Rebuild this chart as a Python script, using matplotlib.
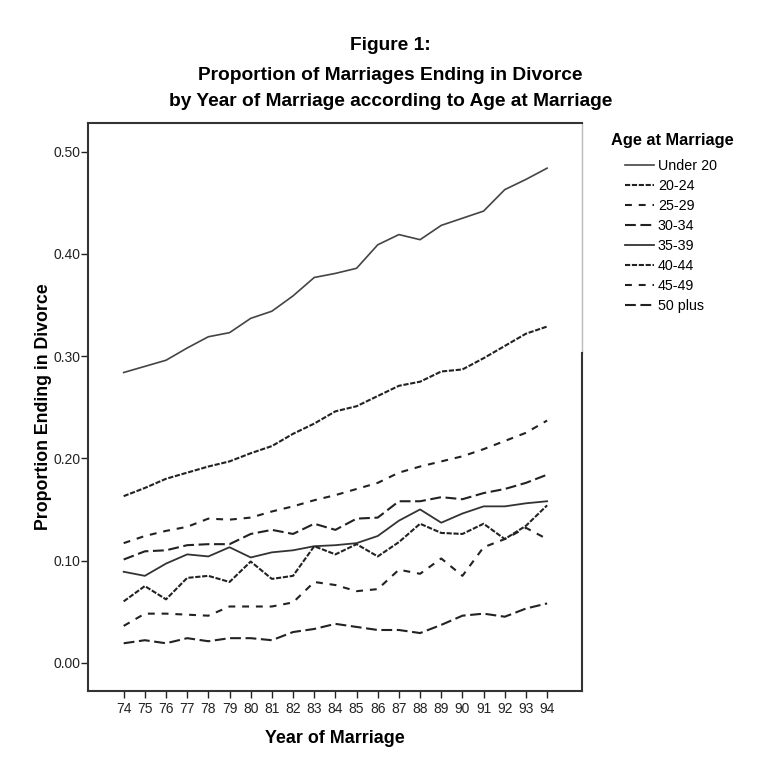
import matplotlib
matplotlib.use("Agg")
import matplotlib.pyplot as plt

plt.rcParams['font.family'] = ['Liberation Sans', 'DejaVu Sans']

years = list(range(74, 95))
year_labels = [str(y) for y in years]

under_20 = [0.284, 0.290, 0.296, 0.308, 0.319, 0.323, 0.337, 0.344, 0.359, 0.377, 0.381,
            0.386, 0.409, 0.419, 0.414, 0.428, 0.435, 0.442, 0.463, 0.473, 0.484]
age_20_24 = [0.163, 0.171, 0.180, 0.186, 0.192, 0.197, 0.205, 0.212, 0.224, 0.234, 0.246,
             0.251, 0.261, 0.271, 0.275, 0.285, 0.287, 0.298, 0.310, 0.322, 0.329]
age_25_29 = [0.117, 0.124, 0.129, 0.133, 0.141, 0.140, 0.142, 0.148, 0.153, 0.159, 0.164,
             0.170, 0.176, 0.186, 0.192, 0.197, 0.202, 0.209, 0.217, 0.225, 0.237]
age_30_34 = [0.101, 0.109, 0.110, 0.115, 0.116, 0.116, 0.126, 0.130, 0.126, 0.136, 0.130,
             0.141, 0.142, 0.158, 0.158, 0.162, 0.160, 0.166, 0.170, 0.176, 0.184]
age_35_39 = [0.089, 0.085, 0.097, 0.106, 0.104, 0.113, 0.103, 0.108, 0.110, 0.114, 0.115,
             0.117, 0.124, 0.139, 0.150, 0.137, 0.146, 0.153, 0.153, 0.156, 0.158]
age_40_44 = [0.060, 0.075, 0.062, 0.083, 0.085, 0.079, 0.099, 0.082, 0.085, 0.114, 0.106,
             0.116, 0.104, 0.118, 0.136, 0.127, 0.126, 0.136, 0.121, 0.134, 0.154]
age_45_49 = [0.036, 0.048, 0.048, 0.047, 0.046, 0.055, 0.055, 0.055, 0.059, 0.079, 0.076,
             0.070, 0.072, 0.091, 0.087, 0.102, 0.085, 0.113, 0.121, 0.132, 0.121]
age_50_plus = [0.019, 0.022, 0.019, 0.024, 0.021, 0.024, 0.024, 0.022, 0.030, 0.033, 0.038,
               0.035, 0.032, 0.032, 0.029, 0.037, 0.046, 0.048, 0.045, 0.053, 0.058]

series = [under_20, age_20_24, age_25_29, age_30_34, age_35_39, age_40_44, age_45_49, age_50_plus]
labels = ["Under 20", "20-24", "25-29", "30-34", "35-39", "40-44", "45-49", "50 plus"]
styles = ['-', (0, (2.5, 0.8)), (0, (3.3, 3.3)), (0, (5.2, 2.2)),
          '-', (0, (2.5, 0.8)), (0, (3.3, 3.3)), (0, (5.2, 2.2))]
colors = ['#444444', '#222222', '#222222', '#222222', '#333333', '#222222', '#222222', '#222222']
widths = [1.2, 1.5, 1.5, 1.5, 1.3, 1.5, 1.5, 1.5]

fig = plt.figure(figsize=(7.76, 7.70), dpi=100)
ax = fig.add_axes([0.1138, 0.103, 0.636, 0.737])

for vals, lab, ls, c, lw in zip(series, labels, styles, colors, widths):
    ax.plot(years, vals, linestyle=ls, color=c, linewidth=lw, label=lab)

ax.set_xlim(72.33, 95.64)
ax.set_ylim(-0.0274, 0.528)
ax.set_xticks(years)
ax.set_xticklabels(year_labels)
ax.set_yticks([0.0, 0.1, 0.2, 0.3, 0.4, 0.5])
ax.set_yticklabels(["0.00", "0.10", "0.20", "0.30", "0.40", "0.50"])
ax.tick_params(axis='both', direction='out', length=5, width=1, labelsize=10, colors='#222222')
ax.tick_params(axis='y', pad=0.5)

for side in ['left', 'bottom', 'top', 'right']:
    ax.spines[side].set_color('#333333')
    ax.spines[side].set_linewidth(1.5)
# legend box in the source hides the upper part of the right frame
ax.spines['right'].set_bounds(-0.0274, 0.303)
ax.plot([95.64, 95.64], [0.303, 0.528], color='#bbbbbb', linewidth=1, clip_on=False)

ax.set_xlabel("Year of Marriage", fontsize=12.9, fontweight='bold', labelpad=10)
ax.set_ylabel("Proportion Ending in Divorce", fontsize=12.8, fontweight='bold', labelpad=1)

fig.text(0.503, 1 - 45 / 770, "Figure 1:", ha='center', va='center', fontsize=13.8, fontweight='bold')
fig.text(0.503, 1 - 75 / 770, "Proportion of Marriages Ending in Divorce", ha='center', va='center',
         fontsize=13.8, fontweight='bold')
fig.text(0.503, 1 - 101 / 770, "by Year of Marriage according to Age at Marriage", ha='center',
         va='center', fontsize=13.8, fontweight='bold')

fig.text(611 / 776, 1 - 141 / 770, "Age at Marriage", ha='left', va='center', fontsize=11.8,
         fontweight='bold')
ax.legend(loc='upper left', bbox_to_anchor=(625 / 776, 1 - 159 / 770),
          bbox_transform=fig.transFigure, frameon=False, fontsize=10.3, handlelength=2.0,
          handletextpad=0.3, labelspacing=0.42, borderpad=0, borderaxespad=0)

fig.savefig("out.png", dpi=100)
